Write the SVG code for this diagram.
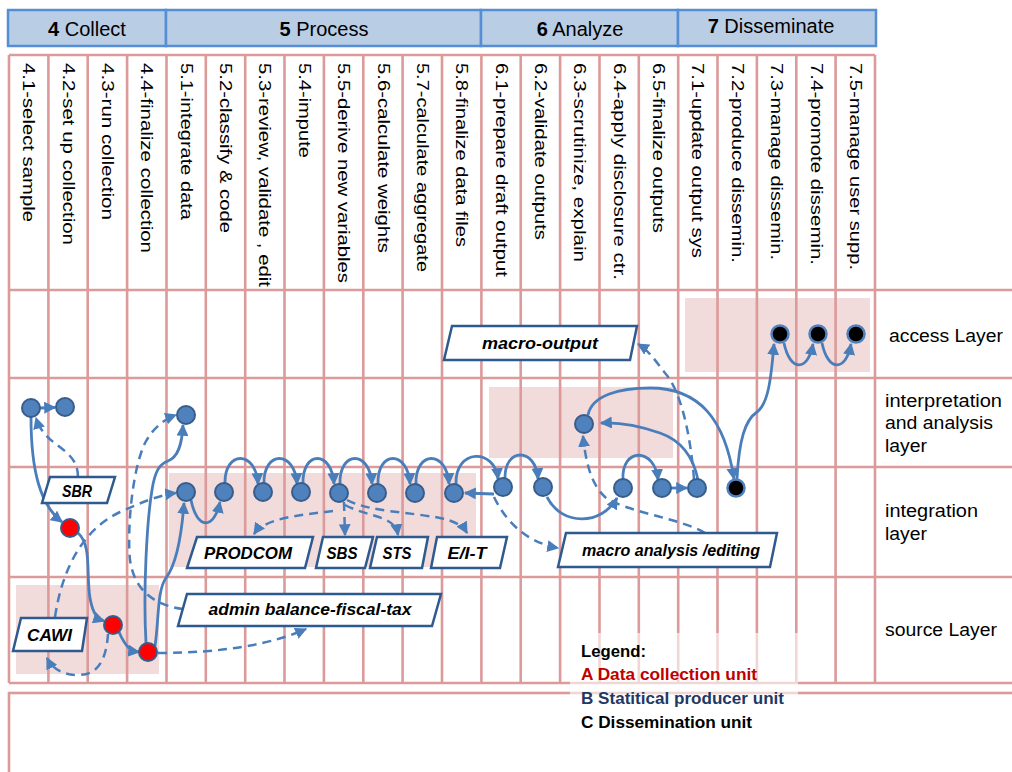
<svg xmlns="http://www.w3.org/2000/svg" width="1012" height="772" viewBox="0 0 1012 772">
<style>
.hdr{fill:#b9cde5;stroke:#558ed5;stroke-width:2.5}
.ht{font-family:"Liberation Sans",Arial,sans-serif;font-size:20px;fill:#000;text-anchor:middle}
.grid{stroke:#dc9a9a;stroke-width:2.6;fill:none}
.shade{fill:#f2dbdb}
.cl{font-family:"Liberation Sans",Arial,sans-serif;font-size:16.5px;fill:#000}
.rl{font-family:"Liberation Sans",Arial,sans-serif;font-size:17.5px;fill:#000}
.pg{fill:#fff;stroke:#2f5a8f;stroke-width:2.5}
.pt{font-family:"Liberation Sans",Arial,sans-serif;font-size:17px;font-weight:bold;font-style:italic;fill:#000;text-anchor:middle}
.nb{fill:#4f81bd;stroke:#385d8a;stroke-width:2}
.nr{fill:#ff0000;stroke:#385d8a;stroke-width:2}
.nk{fill:#000;stroke:#4f81bd;stroke-width:2.5}
.s{fill:none;stroke:#4a7ebb;stroke-width:2.8;marker-end:url(#ah)}
.d{fill:none;stroke:#4a7ebb;stroke-width:2.5;stroke-dasharray:9,6;marker-end:url(#ah)}
.lg{font-family:"Liberation Sans",Arial,sans-serif;font-size:16.5px;font-weight:bold}
</style>
<defs>
<marker id="ah" viewBox="0 0 10 10" refX="9" refY="5" markerWidth="12" markerHeight="12" markerUnits="userSpaceOnUse" orient="auto"><path d="M0,0 L10,5 L0,10 z" fill="#4a7ebb"/></marker>
</defs>
<rect width="1012" height="772" fill="#fff"/>

<g id="phases">
<rect class="hdr" x="8" y="10" width="158" height="36"/>
<rect class="hdr" x="166" y="10" width="315" height="36"/>
<rect class="hdr" x="481" y="10" width="197" height="36"/>
<rect class="hdr" x="678" y="10" width="198" height="36"/>
<text class="ht" x="87" y="36"><tspan font-weight="bold">4</tspan> Collect</text>
<text class="ht" x="324" y="36"><tspan font-weight="bold">5</tspan> Process</text>
<text class="ht" x="580" y="36"><tspan font-weight="bold">6</tspan> Analyze</text>
<text class="ht" x="771" y="33"><tspan font-weight="bold">7</tspan> Disseminate</text>
</g>

<g id="shading">
<rect class="shade" x="685" y="298" width="185" height="74"/>
<rect class="shade" x="489" y="387" width="184" height="71"/>
<rect class="shade" x="169" y="473" width="307" height="94"/>
<rect class="shade" x="16" y="585" width="143" height="89"/>
</g>

<g id="grid" class="grid">
<line x1="9" y1="55" x2="875" y2="55"/>
<line x1="9" y1="290" x2="1012" y2="290"/>
<line x1="9" y1="378" x2="1012" y2="378"/>
<line x1="9" y1="467" x2="1012" y2="467"/>
<line x1="9" y1="577" x2="1012" y2="577"/>
<line x1="9" y1="683" x2="1012" y2="683"/>
<path d="M9,55V683M48.4,55V683M87.7,55V683M127.1,55V683M166.5,55V683M205.8,55V683M245.2,55V683M284.5,55V683M323.9,55V683M363.3,55V683M402.6,55V683M442,55V683M481.4,55V683M520.7,55V683M560.1,55V683M599.5,55V683M638.8,55V683M678.2,55V683M717.5,55V683M756.9,55V683M796.3,55V683M835.6,55V683M875,55V683"/>
<rect x="9" y="693" width="1012" height="100"/>
</g>

<g id="steps">
<text class="cl" transform="translate(23.2,63) rotate(90)" textLength="159" lengthAdjust="spacingAndGlyphs">4.1-select sample</text>
<text class="cl" transform="translate(62.5,63) rotate(90)" textLength="182" lengthAdjust="spacingAndGlyphs">4.2-set up collection</text>
<text class="cl" transform="translate(101.9,63) rotate(90)" textLength="157" lengthAdjust="spacingAndGlyphs">4.3-run collection</text>
<text class="cl" transform="translate(141.3,63) rotate(90)" textLength="190" lengthAdjust="spacingAndGlyphs">4.4-finalize collection</text>
<text class="cl" transform="translate(180.6,63) rotate(90)" textLength="157" lengthAdjust="spacingAndGlyphs">5.1-integrate data</text>
<text class="cl" transform="translate(220,63) rotate(90)" textLength="170" lengthAdjust="spacingAndGlyphs">5.2-classify &amp; code</text>
<text class="cl" transform="translate(259.4,63) rotate(90)" textLength="224" lengthAdjust="spacingAndGlyphs">5.3-review, validate , edit</text>
<text class="cl" transform="translate(298.7,63) rotate(90)" textLength="95" lengthAdjust="spacingAndGlyphs">5.4-impute</text>
<text class="cl" transform="translate(338.1,63) rotate(90)" textLength="220" lengthAdjust="spacingAndGlyphs">5.5-derive new variables</text>
<text class="cl" transform="translate(377.5,63) rotate(90)" textLength="190" lengthAdjust="spacingAndGlyphs">5.6-calculate weights</text>
<text class="cl" transform="translate(416.8,63) rotate(90)" textLength="209" lengthAdjust="spacingAndGlyphs">5.7-calculate aggregate</text>
<text class="cl" transform="translate(456.2,63) rotate(90)" textLength="184" lengthAdjust="spacingAndGlyphs">5.8-finalize data files</text>
<text class="cl" transform="translate(495.5,63) rotate(90)" textLength="214" lengthAdjust="spacingAndGlyphs">6.1-prepare draft output</text>
<text class="cl" transform="translate(534.9,63) rotate(90)" textLength="177" lengthAdjust="spacingAndGlyphs">6.2-validate outputs</text>
<text class="cl" transform="translate(574.3,63) rotate(90)" textLength="199" lengthAdjust="spacingAndGlyphs">6.3-scrutinize, explain</text>
<text class="cl" transform="translate(613.6,63) rotate(90)" textLength="217" lengthAdjust="spacingAndGlyphs">6.4-apply disclosure ctr.</text>
<text class="cl" transform="translate(653,63) rotate(90)" textLength="170" lengthAdjust="spacingAndGlyphs">6.5-finalize outputs</text>
<text class="cl" transform="translate(692.4,63) rotate(90)" textLength="195" lengthAdjust="spacingAndGlyphs">7.1-update output sys</text>
<text class="cl" transform="translate(731.7,63) rotate(90)" textLength="200" lengthAdjust="spacingAndGlyphs">7.2-produce dissemin.</text>
<text class="cl" transform="translate(771.1,63) rotate(90)" textLength="197" lengthAdjust="spacingAndGlyphs">7.3-manage dissemin.</text>
<text class="cl" transform="translate(810.5,63) rotate(90)" textLength="202" lengthAdjust="spacingAndGlyphs">7.4-promote dissemin.</text>
<text class="cl" transform="translate(849.8,63) rotate(90)" textLength="207" lengthAdjust="spacingAndGlyphs">7.5-manage user supp.</text>
</g>

<g id="layers">
<text class="rl" x="889" y="342" textLength="114" lengthAdjust="spacingAndGlyphs">access Layer</text>
<text class="rl" x="885" y="407" textLength="117" lengthAdjust="spacingAndGlyphs">interpretation</text>
<text class="rl" x="885" y="429" textLength="108" lengthAdjust="spacingAndGlyphs">and analysis</text>
<text class="rl" x="885" y="452" textLength="42" lengthAdjust="spacingAndGlyphs">layer</text>
<text class="rl" x="885" y="517" textLength="93" lengthAdjust="spacingAndGlyphs">integration</text>
<text class="rl" x="885" y="540" textLength="42" lengthAdjust="spacingAndGlyphs">layer</text>
<text class="rl" x="885" y="636" textLength="112" lengthAdjust="spacingAndGlyphs">source Layer</text>
</g>

<g id="connectors">
<path class="s" d="M40,408 L55,407.5"/>
<path class="s" d="M31,417 C31,470 40,505 62,522"/>
<path class="d" d="M78,477 C78,447 45,448 36,418"/>
<path class="s" d="M78,533 C92,545 86,575 90,598 C93,615 98,619 104,621"/>
<path class="s" d="M119,632 C126,648 131,651 139,652"/>
<path class="s" d="M146,643 C143,590 147,520 152,490 C155,470 160,464 168,461 C178,457 182,445 183,425"/>
<path class="s" d="M155,646 C159,620 157,590 166,578 C178,562 182,530 184,503"/>
<path class="d" d="M158,653 C220,653 270,645 306,629"/>
<path class="d" d="M108,634 C106,662 97,675 78,675 C62,675 52,668 47,658"/>
<path class="d" d="M55,617 C62,570 82,530 120,512 C142,502 160,495 176,493"/>
<path class="d" d="M183,609 C160,606 135,595 130,560 C127,530 132,470 145,443 C152,430 162,420 176,415"/>
<path class="s" d="M191,500 C197,530 214,530 220,502"/>
<path class="s" d="M225,484 C224,450 256,450 258,484"/>
<path class="s" d="M264,484 C263,450 295,450 297,484"/>
<path class="s" d="M303,484 C302,450 332,450 334,484"/>
<path class="s" d="M340,484 C339,450 370,450 372,484"/>
<path class="s" d="M378,484 C377,450 408,450 410,484"/>
<path class="s" d="M416,484 C415,450 447,450 449,484"/>
<path class="s" d="M456,484 C455,448 495,448 498,479"/>
<path class="s" d="M505,479 C504,447 536,447 538,479"/>
<path class="s" d="M623,480 C621,447 655,447 658,480"/>
<path class="s" d="M494,494 L465,493"/>
<path class="s" d="M547,497 C562,527 602,525 617,498"/>
<path class="s" d="M671,488 L687,488"/>
<path class="s" d="M698,480 C693,455 680,440 660,433 C640,426 620,422 601,423"/>
<path class="s" d="M588,415 C592,395 620,388 650,388 C700,388 725,420 734,479"/>
<path class="d" d="M694,479 C690,430 680,390 665,373 C655,360 648,350 638,344"/>
<path class="d" d="M705,533 C680,518 625,512 605,497 C592,485 586,465 583,436"/>
<path class="d" d="M494,497 C505,520 525,542 558,548"/>
<path class="d" d="M333,511 C300,515 265,518 254,534"/>
<path class="d" d="M344,502 L345,535"/>
<path class="d" d="M345,505 C370,518 395,515 398,535"/>
<path class="d" d="M347,500 C370,512 410,512 440,518 C455,521 463,526 467,533"/>
<path class="s" d="M737,479 C739,440 745,420 757,412 C768,404 771,380 774,344"/>
<path class="s" d="M784,343 C790,372 808,372 813,344"/>
<path class="s" d="M822,343 C828,372 846,372 851,344"/>
</g>

<g id="n-macro-output"><polygon class="pg" points="452,326 637,326 630,360 444,360"/><text class="pt" x="540" y="349" textLength="116" lengthAdjust="spacingAndGlyphs">macro-output</text></g>
<g id="n-sbr"><polygon class="pg" points="50,477 115,477 107,503 42,503"/><text class="pt" x="77" y="497" textLength="30" lengthAdjust="spacingAndGlyphs">SBR</text></g>
<g id="n-prodcom"><polygon class="pg" points="197,537 313,537 305,568 187,568"/><text class="pt" x="248" y="559" textLength="88" lengthAdjust="spacingAndGlyphs">PRODCOM</text></g>
<g id="n-sbs"><polygon class="pg" points="323,537 373,537 365,568 316,568"/><text class="pt" x="342" y="559" textLength="31" lengthAdjust="spacingAndGlyphs">SBS</text></g>
<g id="n-sts"><polygon class="pg" points="377,537 428,537 422,568 370,568"/><text class="pt" x="397" y="559" textLength="29" lengthAdjust="spacingAndGlyphs">STS</text></g>
<g id="n-eit"><polygon class="pg" points="437,537 507,537 500,568 431,568"/><text class="pt" x="467" y="559" textLength="39" lengthAdjust="spacingAndGlyphs">E/I-T</text></g>
<g id="n-macro-analysis"><polygon class="pg" points="566,533 777,533 770,567 558,567"/><text class="pt" x="671" y="556" textLength="178" lengthAdjust="spacingAndGlyphs">macro analysis /editing</text></g>
<g id="n-admin"><polygon class="pg" points="187,594 441,594 432,626 178,626"/><text class="pt" x="310" y="615" textLength="203" lengthAdjust="spacingAndGlyphs">admin balance-fiscal-tax</text></g>
<g id="n-cawi"><polygon class="pg" points="21,618 87,618 82,651 13,651"/><text class="pt" x="49.5" y="641" textLength="45" lengthAdjust="spacingAndGlyphs">CAWI</text></g>

<g id="n-a1"><circle class="nb" cx="31" cy="408" r="9"/></g>
<g id="n-a2"><circle class="nb" cx="65" cy="407" r="9"/></g>
<g id="n-a3"><circle class="nb" cx="186" cy="415" r="9"/></g>
<g id="n-a4"><circle class="nb" cx="584" cy="424" r="9"/></g>
<g id="n-i1"><circle class="nb" cx="186" cy="492" r="9"/></g>
<g id="n-i2"><circle class="nb" cx="224" cy="492" r="9"/></g>
<g id="n-i3"><circle class="nb" cx="263" cy="492" r="9"/></g>
<g id="n-i4"><circle class="nb" cx="301" cy="492" r="9"/></g>
<g id="n-i5"><circle class="nb" cx="339" cy="493" r="9"/></g>
<g id="n-i6"><circle class="nb" cx="377" cy="493" r="9"/></g>
<g id="n-i7"><circle class="nb" cx="415" cy="493" r="9"/></g>
<g id="n-i8"><circle class="nb" cx="454" cy="493" r="9"/></g>
<g id="n-i9"><circle class="nb" cx="503" cy="487" r="9"/></g>
<g id="n-i10"><circle class="nb" cx="543" cy="487" r="9"/></g>
<g id="n-i11"><circle class="nb" cx="623" cy="488" r="9"/></g>
<g id="n-i12"><circle class="nb" cx="662" cy="488" r="9"/></g>
<g id="n-i13"><circle class="nb" cx="697" cy="488" r="9"/></g>
<g id="n-i14"><circle class="nk" cx="736" cy="488" r="8.5"/></g>
<g id="n-d1"><circle class="nk" cx="780" cy="334" r="8.5"/></g>
<g id="n-d2"><circle class="nk" cx="818" cy="334" r="8.5"/></g>
<g id="n-d3"><circle class="nk" cx="856" cy="334" r="8.5"/></g>
<g id="n-r1"><circle class="nr" cx="70" cy="528" r="9"/></g>
<g id="n-r2"><circle class="nr" cx="113" cy="625" r="9"/></g>
<g id="n-r3"><circle class="nr" cx="148" cy="652" r="9"/></g>

<g id="legend">
<rect x="570" y="633" width="228" height="66" fill="#fff" fill-opacity="0.6"/>
<text class="lg" x="581" y="657" fill="#000" textLength="65" lengthAdjust="spacingAndGlyphs">Legend:</text>
<text class="lg" x="581" y="680" fill="#c00000" textLength="176" lengthAdjust="spacingAndGlyphs">A Data collection unit</text>
<text class="lg" x="581" y="704" fill="#1f3864" textLength="203" lengthAdjust="spacingAndGlyphs">B Statitical producer unit</text>
<text class="lg" x="581" y="728" fill="#000" textLength="171" lengthAdjust="spacingAndGlyphs">C Dissemination unit</text>
</g>
</svg>
